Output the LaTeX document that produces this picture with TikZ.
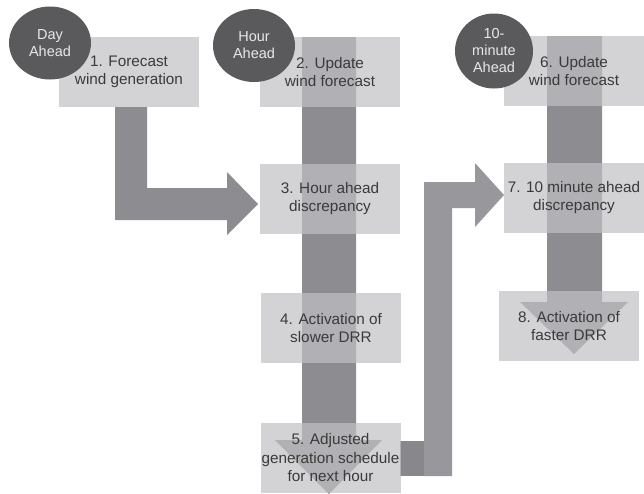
\documentclass[tikz,border=0pt]{standalone}
\usepackage{fontspec}
\setmainfont{Liberation Sans}
\usetikzlibrary{shapes.geometric}
\definecolor{boxfill}{RGB}{193,193,197}
\definecolor{barcol}{RGB}{141,141,145}
\definecolor{linkdark}{RGB}{136,136,140}
\definecolor{linklight}{RGB}{152,152,156}
\definecolor{circcol}{RGB}{90,90,92}
\definecolor{txtcol}{RGB}{58,58,58}
\definecolor{circtxt}{RGB}{232,232,232}
\begin{document}
\begin{tikzpicture}[x=1pt,y=-1pt,
  stepbox/.style={fill=boxfill, fill opacity=0.7, text opacity=1, text=txtcol,
    minimum width=140pt, minimum height=70pt, inner sep=0pt, align=center,
    font=\fontsize{15.3}{18.5}\selectfont},
  badge/.style={ellipse, fill=circcol, text=circtxt, minimum width=82pt,
    minimum height=73pt, inner sep=0pt, align=center,
    font=\fontsize{14.5}{17}\selectfont},
  barfill/.style={fill=barcol, draw=none}]
\useasboundingbox (0,0) rectangle (644,493);
\fill[white] (0,0) rectangle (644,493);

% block arrows (under the boxes)
\fill[barfill] (115,107) -- (147,107) -- (147,188) -- (227,188) -- (227,172)
  -- (258,204) -- (227,235) -- (227,220) -- (115,220) -- cycle;
\fill[barfill] (302,37) -- (356,37) -- (356,440) -- (382,440) -- (329,494)
  -- (275,440) -- (302,440) -- cycle;
\fill[barfill] (547,36) -- (602,36) -- (602,302) -- (628,302) -- (574,354)
  -- (520,302) -- (547,302) -- cycle;
\fill[linkdark] (400,441) rectangle (424,476);
\fill[linklight] (424,476) -- (452,476) -- (452,208) -- (475,208) -- (475,227)
  -- (504,195) -- (475,163) -- (475,182) -- (424,182) -- cycle;

% step boxes
\node[stepbox] (b1) at (129,72) {1. Forecast\\wind generation};
\node[stepbox] (b2) at (330,72) {2. Update\\wind forecast};
\node[stepbox] (b3) at (330,198.5) {3. Hour ahead\\discrepancy};
\node[stepbox] (b4) at (331,328) {4. Activation of\\slower DRR};
\node[stepbox] (b5) at (330.5,458) {5. Adjusted\\generation schedule\\for next hour};
\node[stepbox] (b6) at (574,71) {6. Update\\wind forecast};
\node[stepbox] (b7) at (574,197.5) {7. 10 minute ahead\\discrepancy};
\node[stepbox] (b8) at (569,326) {8. Activation of\\faster DRR};

% badges
\node[badge] (c1) at (50,43) {Day\\Ahead};
\node[badge] (c2) at (254,45.5) {Hour\\Ahead};
\node[badge, minimum width=78pt, minimum height=75pt] (c3) at (494,51) {10-\\minute\\Ahead};
\end{tikzpicture}
\end{document}
